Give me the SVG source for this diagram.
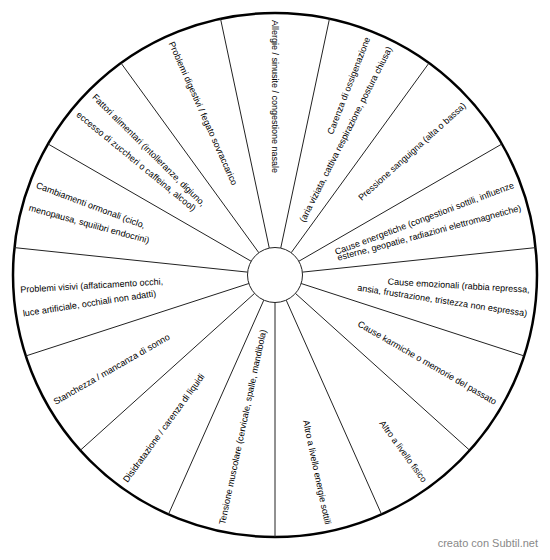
<svg xmlns="http://www.w3.org/2000/svg" width="550" height="560" viewBox="0 0 550 560">
<style>
.lbl{font-family:"Liberation Sans",Arial,sans-serif;font-size:9px;fill:#000}
.r{text-anchor:end}
.l{text-anchor:start}
.spoke{stroke:#222;stroke-width:1;fill:none}
.wm{font-family:"Liberation Sans",Arial,sans-serif;font-size:11px;fill:#888;text-anchor:end}
</style>
<rect width="550" height="560" fill="#fff"/>
<circle id="outer" cx="275" cy="275" r="262" fill="#fff" stroke="#000" stroke-width="2.5"/>
<g id="connectors" class="spoke">
<line x1="275" y1="302.5" x2="275" y2="537"/>
<line x1="263.82" y1="300.12" x2="168.44" y2="514.34"/>
<line x1="254.56" y1="293.40" x2="80.30" y2="450.31"/>
<line x1="248.85" y1="283.50" x2="25.81" y2="355.96"/>
<line x1="247.65" y1="272.13" x2="14.44" y2="247.61"/>
<line x1="251.18" y1="261.25" x2="48.11" y2="144.0"/>
<line x1="258.84" y1="252.75" x2="120.99" y2="63.04"/>
<line x1="269.28" y1="248.10" x2="220.53" y2="18.73"/>
<line x1="280.72" y1="248.10" x2="329.47" y2="18.73"/>
<line x1="291.16" y1="252.75" x2="429.01" y2="63.04"/>
<line x1="298.82" y1="261.25" x2="501.89" y2="144.0"/>
<line x1="302.35" y1="272.13" x2="535.56" y2="247.61"/>
<line x1="301.15" y1="283.50" x2="524.19" y2="355.96"/>
<line x1="295.44" y1="293.40" x2="469.70" y2="450.31"/>
<line x1="286.18" y1="300.12" x2="381.56" y2="514.34"/>
</g>
<circle id="center" cx="275" cy="275" r="27.5" fill="#fff" stroke="#222" stroke-width="1"/>
<g id="n-allergie"><text class="lbl l" x="20" y="278" transform="rotate(90 275 275)">Allergie / sinusite / congestione nasale</text></g>
<g id="n-carenza">
<text class="lbl r" x="530" y="278" transform="rotate(291.3 275 275)">Carenza di ossigenazione</text>
<text class="lbl r" x="530" y="278" transform="rotate(296.7 275 275)">(aria viziata, cattiva respirazione, postura chiusa)</text>
</g>
<g id="n-pressione"><text class="lbl r" x="530" y="278" transform="rotate(318 275 275)">Pressione sanguigna (alta o bassa)</text></g>
<g id="n-energetiche">
<text class="lbl r" x="530" y="278" transform="rotate(339.3 275 275)">Cause energetiche (congestioni sottili, influenze</text>
<text class="lbl r" x="530" y="278" transform="rotate(344.7 275 275)">esterne, geopatie, radiazioni elettromagnetiche)</text>
</g>
<g id="n-emozionali">
<text class="lbl r" x="530" y="278" transform="rotate(3.3 275 275)">Cause emozionali (rabbia repressa,</text>
<text class="lbl r" x="530" y="278" transform="rotate(8.7 275 275)">ansia, frustrazione, tristezza non espressa)</text>
</g>
<g id="n-karmiche"><text class="lbl r" x="530" y="278" transform="rotate(30 275 275)">Cause karmiche o memorie del passato</text></g>
<g id="n-fisico"><text class="lbl r" x="530" y="278" transform="rotate(54 275 275)">Altro a livello fisico</text></g>
<g id="n-sottili"><text class="lbl r" x="530" y="278" transform="rotate(78 275 275)">Altro a livello energie sottili</text></g>
<g id="n-tensione"><text class="lbl l" x="20" y="278" transform="rotate(-78 275 275)">Tensione muscolare (cervicale, spalle, mandibola)</text></g>
<g id="n-disidratazione"><text class="lbl l" x="20" y="278" transform="rotate(-54 275 275)">Disidratazione / carenza di liquidi</text></g>
<g id="n-stanchezza"><text class="lbl l" x="20" y="278" transform="rotate(-30 275 275)">Stanchezza / mancanza di sonno</text></g>
<g id="n-visivi">
<text class="lbl l" x="20" y="278" transform="rotate(-3.3 275 275)">Problemi visivi (affaticamento occhi,</text>
<text class="lbl l" x="20" y="278" transform="rotate(-8.7 275 275)">luce artificiale, occhiali non adatti)</text>
</g>
<g id="n-ormonali">
<text class="lbl l" x="20" y="278" transform="rotate(20.7 275 275)">Cambiamenti ormonali (ciclo,</text>
<text class="lbl l" x="20" y="278" transform="rotate(15.3 275 275)">menopausa, squilibri endocrini)</text>
</g>
<g id="n-alimentari">
<text class="lbl l" x="20" y="278" transform="rotate(44.7 275 275)">Fattori alimentari (intolleranze, digiuno,</text>
<text class="lbl l" x="20" y="278" transform="rotate(39.3 275 275)">eccesso di zuccheri o caffeina, alcool)</text>
</g>
<g id="n-digestivi"><text class="lbl l" x="20" y="278" transform="rotate(66 275 275)">Problemi digestivi / fegato sovraccarico</text></g>
<text class="wm" x="538" y="547">creato con Subtil.net</text>
</svg>
